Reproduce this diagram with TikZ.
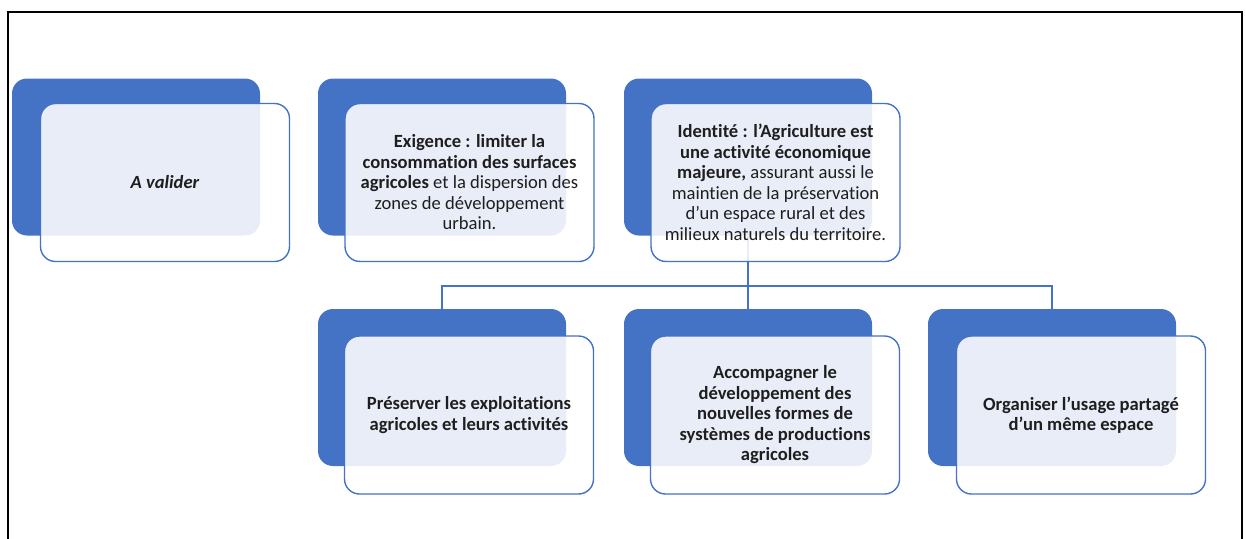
\documentclass[tikz,border=0pt]{standalone}
\usepackage{fontspec}
\setmainfont{Carlito}[Ligatures=NoCommon]
\definecolor{obl}{HTML}{4472C4}
\definecolor{txt}{HTML}{1E1E1E}
\tikzset{
  backbox/.style={draw=none, fill=obl, rounded corners=15pt, minimum width=248pt, minimum height=157pt, inner sep=0pt},
  frontbox/.style={draw=obl, line width=1.4pt, fill=white, fill opacity=0.88, text opacity=1, rounded corners=15pt,
     minimum width=249pt, minimum height=158pt, inner sep=0pt, align=center, text=txt,
     font=\fontsize{18.6}{20.5}\selectfont},
  conn/.style={draw=obl, line width=1.2pt},
  frame/.style={draw=black, line width=1.5pt}
}
\begin{document}
\begin{tikzpicture}[x=1pt,y=-1pt]
\useasboundingbox (0,0) rectangle (1246,538);
\draw[frame] (8,540) -- (8,12) -- (1242,12) -- (1242,540);
% back boxes
\node[backbox] (b1) at (136,157) {};
\node[backbox] (b2) at (442,157) {};
\node[backbox] (b3) at (748,157) {};
\node[backbox] (b4) at (442,387.5) {};
\node[backbox] (b5) at (748,387.5) {};
\node[backbox] (b6) at (1052,387.5) {};
% connectors
\coordinate (bus) at (748,286);
\draw[conn] (b3.south) -- (bus);
\draw[conn] (bus) -| (b4.north);
\draw[conn] (bus) -- (b5.north);
\draw[conn] (bus) -| (b6.north);
% front boxes
\node[frontbox] (f1) at (165,182.5) {\textbf{\textit{A valider}}};
\node[frontbox] (f2) at (469.5,182.5) {\textbf{Exigence : limiter la}\\\textbf{consommation des surfaces}\\\textbf{agricoles} et la dispersion des\\zones de développement\\urbain.};
\node[frontbox] (f3) at (775.5,182.5) {\textbf{Identité : l’Agriculture est}\\\textbf{une activité économique}\\\textbf{majeure,} assurant aussi le\\maintien de la préservation\\d’un espace rural et des\\milieux naturels du territoire.};
\node[frontbox] (f4) at (469,415) {\textbf{Préserver les exploitations}\\\textbf{agricoles et leurs activités}};
\node[frontbox] (f5) at (775,415) {\textbf{Accompagner le}\\\textbf{développement des}\\\textbf{nouvelles formes de}\\\textbf{systèmes de productions}\\\textbf{agricoles}};
\node[frontbox] (f6) at (1081,415) {\textbf{Organiser l’usage partagé}\\\textbf{d’un même espace}};
\end{tikzpicture}
\end{document}
